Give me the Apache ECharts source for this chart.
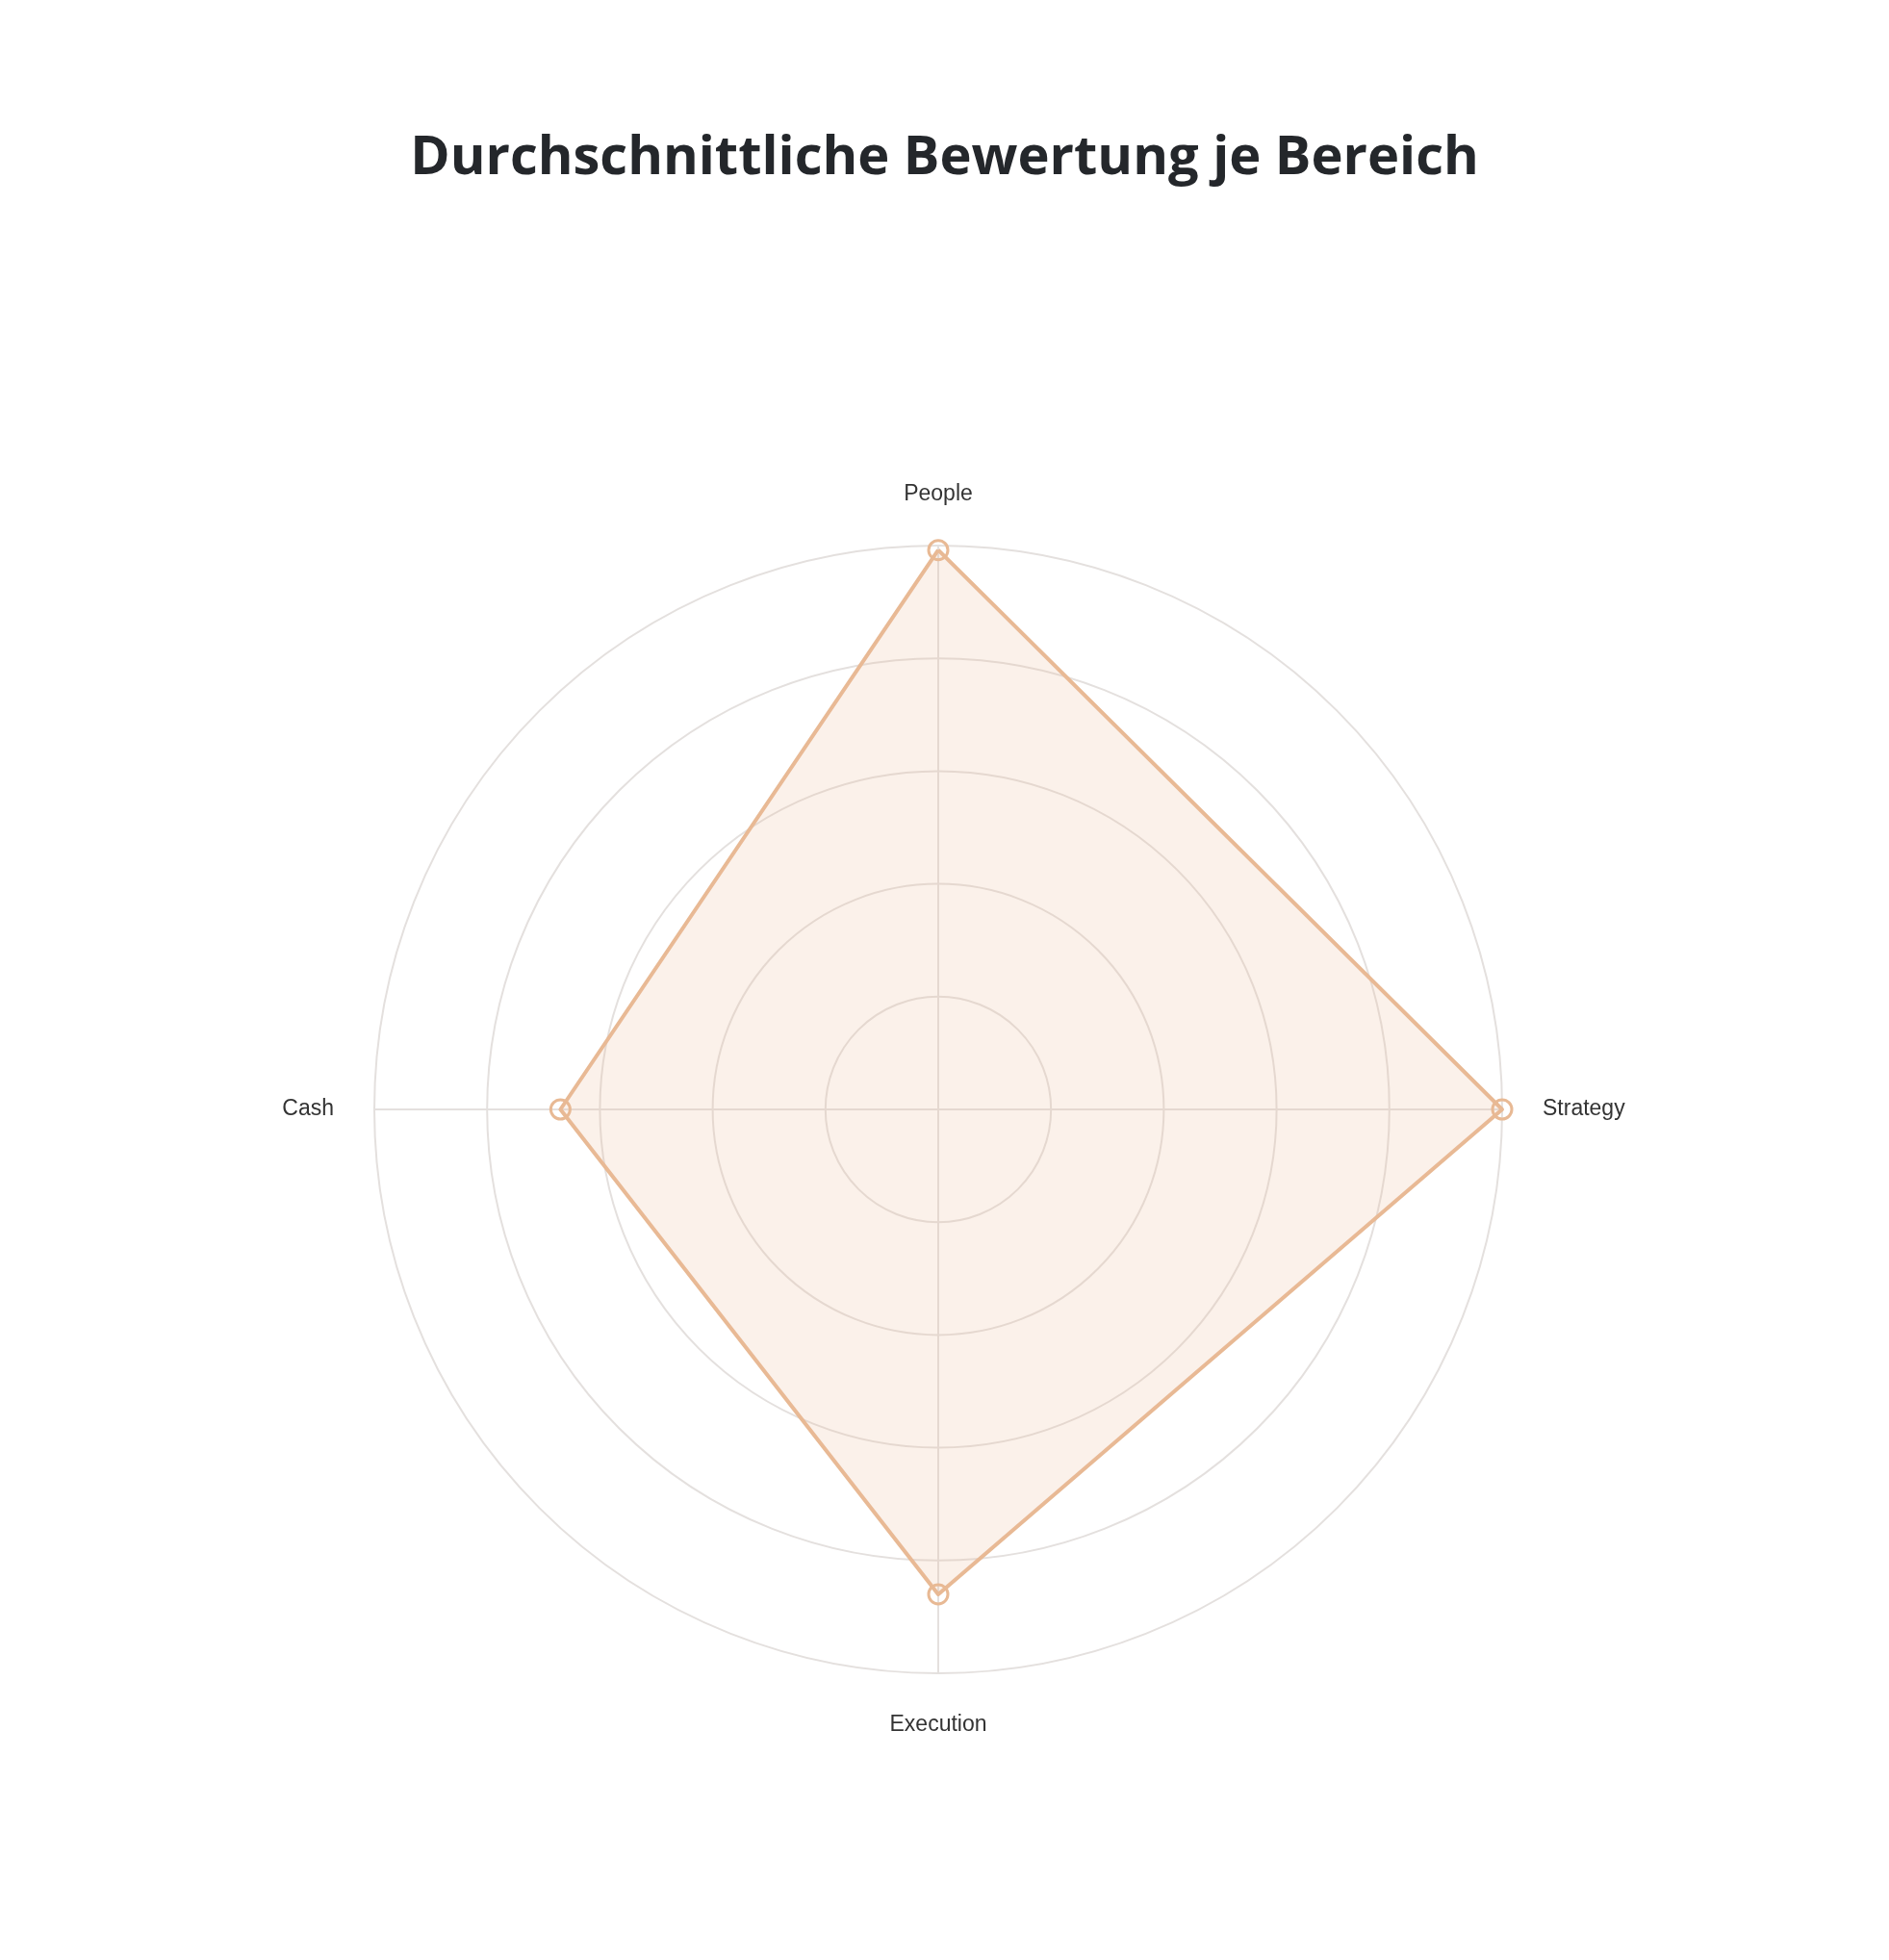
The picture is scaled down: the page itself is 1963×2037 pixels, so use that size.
<!DOCTYPE html><html><head><meta charset="utf-8"><script src="https://cdn.jsdelivr.net/npm/echarts@6/dist/echarts.min.js"></script>
<style>html,body{margin:0;background:#fff}#c{width:1963px;height:2037px}</style></head><body><div id="c"></div><script>
const indicators=['People','Cash','Execution','Strategy'];
const maxValue=5;
const values=[4.96,3.35,4.3,5.0];
const chart=echarts.init(document.getElementById('c'));
chart.setOption({
 backgroundColor:'#fff',
 title:{text:'Durchschnittliche Bewertung je Bereich',left:'center',top:132,textStyle:{fontFamily:'Open Sans',fontWeight:'bold',fontSize:56,color:'#24272b'}},
 radar:{center:[975,1153],radius:586,shape:'circle',splitNumber:5,startAngle:90,
  indicator:indicators.map(n=>({name:n,max:maxValue})),
  axisName:{color:'#333',fontFamily:'Liberation Sans',fontSize:23},nameGap:42,
  splitLine:{lineStyle:{color:'#e4e0de',width:2}},splitArea:{show:false},
  axisLine:{lineStyle:{color:'#e4e0de',width:2}}},
 series:[{type:'radar',data:[{value:values}],symbol:'circle',symbolSize:20,
  lineStyle:{color:'#e8b994',width:4},itemStyle:{color:'rgba(0,0,0,0)',borderColor:'#e8b994',borderWidth:3},
  areaStyle:{color:'rgba(236,190,155,0.3)'}}]
});
</script></body></html>
